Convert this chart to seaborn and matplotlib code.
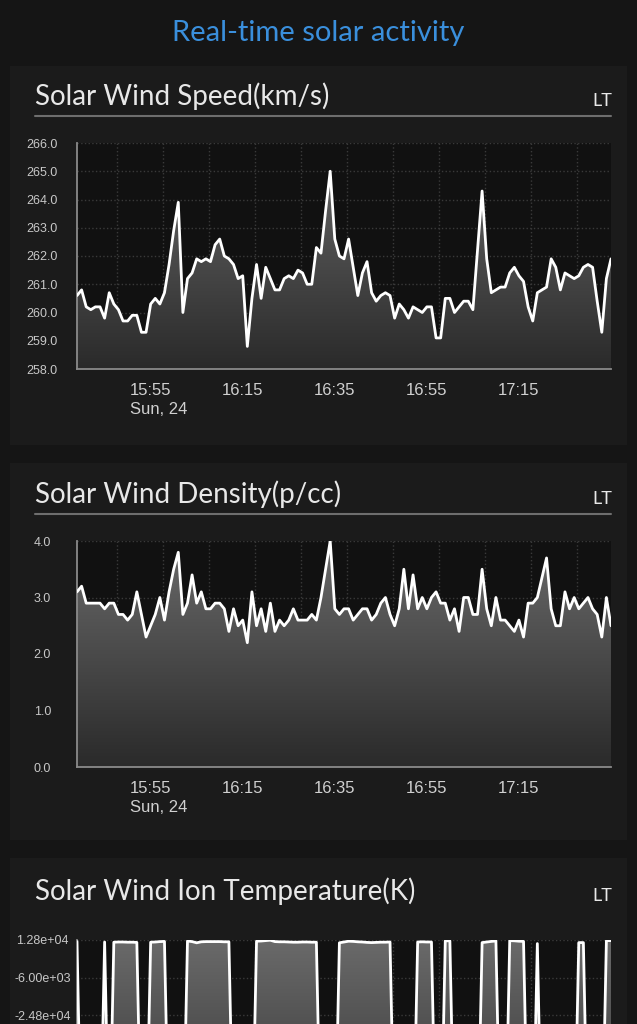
import numpy as np
import pandas as pd
import matplotlib
matplotlib.use('Agg')
import matplotlib.pyplot as plt
from matplotlib.patches import Rectangle, PathPatch
from matplotlib.colors import LinearSegmentedColormap
import seaborn as sns

# one reading per minute, Sun 24, 15:39 .. 17:35
times = pd.date_range('2014-08-24 15:39', periods=117, freq='min')

# solar wind speed (km/s)
speed = [
    260.6, 260.8, 260.2, 260.1, 260.2, 260.2, 259.8, 260.7, 260.3, 260.1,
    259.7, 259.7, 259.9, 259.9, 259.3, 259.3, 260.3, 260.5, 260.3, 260.7,
    261.7, 262.9, 263.9, 260.0, 261.2, 261.4, 261.9, 261.8, 261.9, 261.8,
    262.4, 262.6, 262.0, 261.9, 261.7, 261.2, 261.3, 258.8, 260.5, 261.7,
    260.5, 261.6, 261.2, 260.8, 260.8, 261.2, 261.3, 261.2, 261.5, 261.4,
    261.0, 261.0, 262.3, 262.1, 263.6, 265.0, 262.6, 262.0, 261.9, 262.6,
    261.6, 260.6, 261.4, 261.8, 260.7, 260.4, 260.6, 260.7, 260.6, 259.8,
    260.3, 260.1, 259.8, 260.2, 260.1, 260.0, 260.2, 260.2, 259.1, 259.1,
    260.5, 260.5, 260.0, 260.2, 260.4, 260.4, 260.1, 262.2, 264.3, 261.9,
    260.7, 260.8, 260.9, 260.9, 261.4, 261.6, 261.3, 261.1, 260.2, 259.7,
    260.7, 260.8, 260.9, 261.9, 261.6, 260.8, 261.4, 261.3, 261.2, 261.3,
    261.6, 261.7, 261.6, 260.4, 259.3, 261.2, 261.9,
]

# solar wind density (p/cc)
density = [
    3.1, 3.2, 2.9, 2.9, 2.9, 2.9, 2.8, 2.9, 2.9, 2.7,
    2.7, 2.6, 2.7, 3.1, 2.7, 2.3, 2.5, 2.7, 3.0, 2.6,
    3.1, 3.5, 3.8, 2.7, 2.9, 3.4, 2.9, 3.1, 2.8, 2.8,
    2.9, 2.9, 2.8, 2.4, 2.8, 2.5, 2.6, 2.2, 3.1, 2.5,
    2.8, 2.4, 2.9, 2.4, 2.6, 2.5, 2.6, 2.8, 2.6, 2.6,
    2.6, 2.7, 2.6, 3.0, 3.5, 4.0, 2.8, 2.7, 2.8, 2.8,
    2.6, 2.7, 2.8, 2.8, 2.6, 2.7, 2.9, 3.0, 2.7, 2.5,
    2.8, 3.5, 2.8, 3.4, 2.8, 3.0, 2.8, 3.0, 3.1, 2.9,
    2.9, 2.6, 2.8, 2.4, 3.0, 3.0, 2.7, 2.7, 3.5, 2.8,
    2.5, 3.0, 2.6, 2.6, 2.5, 2.4, 2.6, 2.3, 2.9, 2.9,
    3.0, 3.35, 3.7, 2.8, 2.5, 2.5, 3.1, 2.8, 3.0, 2.8,
    2.9, 3.0, 2.8, 2.7, 2.3, 3.0, 2.5,
]

# solar wind ion temperature (K), -99999 = missing reading
temperature = [
    12000, -99999, -99999, -99999, -99999, -99999, 11800, -99999, 11700, 11800,
    11800, 11700, 11700, 11600, -99999, -99999, 11700, 11800, 12000, 12100,
    -99999, -99999, -99999, -99999, 12300, 12000, 11400, 11900, 12000, 12000,
    12000, 12000, 11900, 11900, -99999, -99999, -99999, -99999, -99999, 12200,
    12300, 12500, 12700, 12000, 11900, 11900, 11800, 11700, 11700, 11800,
    11800, 11700, 11700, -99999, -99999, -99999, -99999, 11400, 11800, 12200,
    12100, 11900, 11800, 11600, 11500, 11600, 11700, 11700, 11800, -99999,
    -99999, -99999, -99999, -99999, 11800, 11900, 11800, 11800, -99999, -99999,
    12400, 12400, -99999, -99999, -99999, -99999, -99999, -99999, 11500, 11800,
    12100, 12300, -99999, -99999, 12500, 12400, 12200, 12100, -99999, -99999,
    11000, -99999, -99999, -99999, -99999, -99999, -99999, -99999, -99999, 11500,
    11500, -99999, -99999, -99999, -99999, 12500, 12500,
]

speed_range = (258.0, 266.0)
speed_ticks = [258.0, 259.0, 260.0, 261.0, 262.0, 263.0, 264.0, 265.0, 266.0]
density_range = (0.0, 4.0)
density_ticks = [0.0, 1.0, 2.0, 3.0, 4.0]
# the temperature axis runs down to -1.0e5; only its top ticks are on screen
temp_range = (-1.0e5, 1.28e4)
temp_ticks = [-2.48e4, -6.0e3, 1.28e4]

time_labels = ['15:55', '16:15', '16:35', '16:55', '17:15']
time_label_at = ['2014-08-24 15:55', '2014-08-24 16:15', '2014-08-24 16:35',
                 '2014-08-24 16:55', '2014-08-24 17:15']
day_label = 'Sun, 24'

title = 'Real-time solar activity'
panel_titles = ['Solar Wind Speed(km/s)', 'Solar Wind Density(p/cc)',
                'Solar Wind Ion Temperature(K)']

W, H = 637, 1024
BG = '#151515'
PANEL = '#1b1b1b'
PLOT_BG = '#111111'
FILL_CMAP = LinearSegmentedColormap.from_list('fill', ['#2a2a2a', '#6a6a6a'])

sns.set_theme(style='dark')
plt.rcParams['font.family'] = ['Liberation Sans', 'DejaVu Sans']
TITLE_FONT = ['Lato', 'Liberation Sans', 'DejaVu Sans']


def fx(px):
    return px / W


def fy(py):
    return 1 - py / H


def gradient_fill(ax, x, y, bottom):
    poly = ax.fill_between(x, y, bottom, facecolor='none', edgecolor='none')
    x0, x1 = ax.get_xlim()
    y0, y1 = ax.get_ylim()
    grad = np.linspace(0, 1, 256).reshape(-1, 1)
    im = ax.imshow(grad, extent=[x0, x1, y0, y1], origin='lower',
                   aspect='auto', cmap=FILL_CMAP, vmin=0, vmax=1, zorder=1)
    clip = PathPatch(poly.get_paths()[0], transform=ax.transData,
                     facecolor='none', edgecolor='none')
    ax.add_patch(clip)
    im.set_clip_path(clip)
    ax.set_xlim(x0, x1)
    ax.set_ylim(y0, y1)


def draw_chart(ax, values, yrange, yticks, fmt, show_x=True):
    ax.set_facecolor(PLOT_BG)
    ax.set_xlim(times[0], times[-1])
    ax.set_ylim(*yrange)
    gradient_fill(ax, times, values, yrange[0])
    sns.lineplot(x=times, y=values, ax=ax, color='white', linewidth=2,
                 zorder=3)
    ax.set_xlabel('')
    ax.set_ylabel('')

    ax.set_yticks(yticks)
    ax.set_yticklabels([fmt.format(v) for v in yticks])
    for lab in ax.get_yticklabels():
        lab.set_horizontalalignment('center')
    ax.tick_params(axis='y', length=0, pad=25, labelsize=9,
                   labelcolor='#c8c8c8')

    ticks_at = pd.to_datetime(time_label_at)
    ax.set_xticks(ticks_at)
    ax.set_xticklabels(time_labels)
    grid_at = [times[0] + pd.Timedelta(minutes=8.7 + 10 * k) for k in range(11)]
    ax.set_xticks(grid_at, minor=True)
    ax.tick_params(axis='x', which='both', length=0, pad=10, labelsize=12,
                   labelcolor='#d0d0d0', labelbottom=show_x)
    if show_x:
        ax.annotate(day_label, xy=(ticks_at[0], 0),
                    xycoords=('data', 'axes fraction'),
                    xytext=(-21, -40), textcoords='offset pixels',
                    ha='left', va='center', fontsize=12, color='#d0d0d0')

    ax.grid(False)
    ax.grid(True, axis='y', which='major', color='#3a3a3a', ls=':', lw=1)
    ax.grid(True, axis='x', which='minor', color='#3a3a3a', ls=':', lw=1)
    for side in ['top', 'right']:
        ax.spines[side].set_visible(False)
    for side in ['left', 'bottom']:
        ax.spines[side].set_visible(True)
        ax.spines[side].set_color('#8a8a8a')
        ax.spines[side].set_linewidth(1.3)


def draw_header(fig, text, y_base, underline=True):
    fig.text(fx(35), fy(y_base), text, fontsize=20, color='#e8e8e8',
             family=TITLE_FONT, va='baseline', ha='left')
    fig.text(fx(612), fy(y_base + 1), 'LT', fontsize=13, color='#e8e8e8',
             family=TITLE_FONT, va='baseline', ha='right')
    if underline:
        fig.add_artist(plt.Line2D([fx(35), fx(611)], [fy(y_base + 11)] * 2,
                                  color='#6e6e6e', lw=1.5,
                                  transform=fig.transFigure))


fig = plt.figure(figsize=(W / 100, H / 100), dpi=100, facecolor=BG)

for top, bottom in [(66, 445), (463, 840), (858, 1030)]:
    fig.add_artist(Rectangle((fx(10), fy(bottom)), fx(617), (bottom - top) / H,
                             transform=fig.transFigure, facecolor=PANEL,
                             edgecolor='none', zorder=0))

fig.text(0.5, fy(41), title, fontsize=21, color='#3a8fdc', family=TITLE_FONT,
         ha='center', va='baseline')

draw_header(fig, panel_titles[0], 105)
draw_header(fig, panel_titles[1], 503)
draw_header(fig, panel_titles[2], 900, underline=False)

ax1 = fig.add_axes([fx(77), fy(369), fx(534), 226 / H])
draw_chart(ax1, speed, speed_range, speed_ticks, '{:.1f}')

ax2 = fig.add_axes([fx(77), fy(767), fx(534), 226 / H])
draw_chart(ax2, density, density_range, density_ticks, '{:.1f}')

ax3 = fig.add_axes([fx(77), fy(1165), fx(534), 225 / H])
draw_chart(ax3, temperature, temp_range, temp_ticks, '{:.2e}', show_x=False)

fig.savefig('out.png', dpi=100, facecolor=fig.get_facecolor())
